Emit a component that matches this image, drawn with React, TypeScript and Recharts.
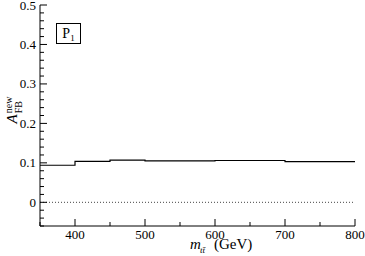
import { LineChart, Line, XAxis, YAxis, ReferenceLine } from 'recharts'

// step edges (GeV) and A_FB values; last point repeats to close the final step
const MASS_EDGES = [350, 400, 450, 500, 600, 700, 800]
const AFB_NEW    = [0.094, 0.104, 0.107, 0.105, 0.106, 0.103, 0.103]

const X_TICKS = [350, 400, 450, 500, 550, 600, 650, 700, 750, 800]
const X_LABELS = [400, 500, 600, 700, 800]
const Y_TICKS = [
  -0.06, -0.04, -0.02, 0, 0.02, 0.04, 0.06, 0.08, 0.1, 0.12, 0.14, 0.16, 0.18,
  0.2, 0.22, 0.24, 0.26, 0.28, 0.3, 0.32, 0.34, 0.36, 0.38, 0.4, 0.42, 0.44,
  0.46, 0.48, 0.5,
]
const Y_LABELS = [0, 0.1, 0.2, 0.3, 0.4, 0.5]

const data = MASS_EDGES.map((m, i) => ({ m, a: AFB_NEW[i] }))

const FONT = '"Liberation Serif"'
const INK = '#000'
const MAJOR = 7
const MINOR = 4

const isLabelY = (v: number) => Y_LABELS.some(l => Math.abs(l - v) < 1e-9)
const fmtY = (v: number) => (Math.abs(v) < 1e-9 ? '0' : String(Number(v.toFixed(2))))

const BottomTick = (p: any) => {
  const v = p.payload.value
  const major = X_LABELS.includes(v)
  return (
    <g>
      <line x1={p.x} x2={p.x} y1={p.y} y2={p.y - (major ? MAJOR : MINOR)} stroke={INK} />
      {major && (
        <text x={p.x} y={p.y + 13} textAnchor="middle" fontFamily="Liberation Serif" fontSize={13} fill={INK}>
          {v}
        </text>
      )}
    </g>
  )
}

const TopTick = (p: any) => {
  const major = X_LABELS.includes(p.payload.value)
  return <line x1={p.x} x2={p.x} y1={p.y} y2={p.y + (major ? MAJOR : MINOR)} stroke={INK} />
}

const LeftTick = (p: any) => {
  const v = p.payload.value
  const major = isLabelY(v)
  return (
    <g>
      <line x1={p.x} x2={p.x + (major ? MAJOR : MINOR)} y1={p.y} y2={p.y} stroke={INK} />
      {major && (
        <text x={p.x - 4} y={p.y + 4.5} textAnchor="end" fontFamily="Liberation Serif" fontSize={13} fill={INK}>
          {fmtY(v)}
        </text>
      )}
    </g>
  )
}

const RightTick = (p: any) => {
  const major = isLabelY(p.payload.value)
  return <line x1={p.x} x2={p.x - (major ? MAJOR : MINOR)} y1={p.y} y2={p.y} stroke={INK} />
}

export default function App() {
  return (
    <div style={{ position: 'absolute', left: 0, top: 0, width: 365, height: 256, background: '#fff', fontFamily: FONT }}>
      <LineChart width={365} height={256} data={data} margin={{ top: 5, right: 10, bottom: 0, left: 0 }}>
        <XAxis
          dataKey="m" type="number" domain={[350, 800]} ticks={X_TICKS} interval={0}
          height={30} tickSize={0} tickMargin={0} tick={<BottomTick />}
          axisLine={{ stroke: INK }} allowDataOverflow
        />
        <XAxis
          xAxisId="top" orientation="top" dataKey="m" type="number" domain={[350, 800]}
          ticks={X_TICKS} interval={0} height={0} tickSize={0} tickMargin={0}
          tick={<TopTick />} axisLine={{ stroke: INK }} allowDataOverflow
        />
        <YAxis
          type="number" domain={[-0.06, 0.5]} ticks={Y_TICKS} interval={0}
          width={40} tickSize={0} tickMargin={0} tick={<LeftTick />}
          axisLine={{ stroke: INK }} allowDataOverflow
        />
        <YAxis
          yAxisId="right" orientation="right" type="number" domain={[-0.06, 0.5]}
          ticks={Y_TICKS} interval={0} width={0} tickSize={0} tickMargin={0}
          tick={<RightTick />} axisLine={{ stroke: INK }} allowDataOverflow
        />
        <ReferenceLine y={0} stroke="#444" strokeDasharray="1 2" />
        <Line
          type="stepAfter" dataKey="a" stroke={INK} strokeWidth={1.2}
          dot={false} activeDot={false} isAnimationActive={false}
        />
      </LineChart>

      {/* panel tag */}
      <div style={{
        position: 'absolute', left: 56, top: 23, width: 23, height: 19,
        border: `1px solid ${INK}`, fontSize: 14, lineHeight: '19px', textAlign: 'center',
      }}>
        P<span style={{ fontSize: 9, position: 'relative', top: 3 }}>1</span>
      </div>

      {/* y label */}
      <div style={{
        position: 'absolute', left: 14, top: 110, transform: 'translate(-50%, -50%) rotate(-90deg)',
        whiteSpace: 'nowrap', fontSize: 15, lineHeight: 1,
      }}>
        <i>A</i>
        <span style={{ display: 'inline-flex', flexDirection: 'column', verticalAlign: 'middle', fontSize: 10, lineHeight: '10px', marginLeft: 1 }}>
          <span>new</span>
          <span>FB</span>
        </span>
      </div>

      {/* x label */}
      <div style={{ position: 'absolute', left: 190, top: 237, fontSize: 15, lineHeight: '15px', whiteSpace: 'nowrap' }}>
        <i>m</i>
      </div>
      <div style={{ position: 'absolute', left: 200, top: 246, fontSize: 9, lineHeight: '9px', whiteSpace: 'nowrap' }}>
        <i>tt&#772;</i>
      </div>
      <div style={{ position: 'absolute', left: 214, top: 237, fontSize: 15, lineHeight: '15px', whiteSpace: 'nowrap' }}>
        (GeV)
      </div>
    </div>
  )
}
